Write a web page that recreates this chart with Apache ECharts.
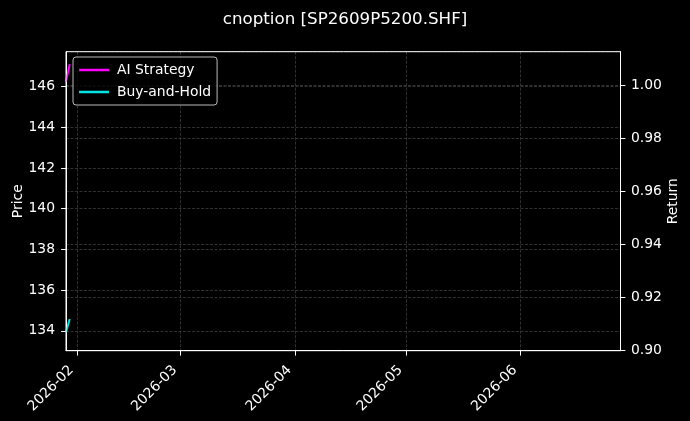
<!DOCTYPE html>
<html>
<head>
<meta charset="utf-8">
<script src="https://cdn.jsdelivr.net/npm/echarts@6/dist/echarts.min.js"></script>
<style>
html,body{margin:0;padding:0;background:#000;}
#chart{width:690px;height:421px;}
</style>
</head>
<body>
<div id="chart"></div>
<script>
var titleText = 'cnoption [SP2609P5200.SHF]';
var dates = ['2026-01-29', '2026-01-30'];
var aiStrategy = [146.25, 147.10];
var buyHold = [133.93, 134.58];
var xMin = '2026-01-29';
var xMax = '2026-06-28';
var priceRange = [133.02, 147.71];
var returnRange = [0.90, 1.0125];

function toTs(s){ return Date.parse(s); }
function pairs(vals){ return dates.map(function(d,i){ return [toTs(d), vals[i]]; }); }

var FONT = 'DejaVu Sans';
var GRID_LINE = {show: true, lineStyle: {color: '#3c3c3c', type: [3, 1.5], width: 0.8}};
var chart = echarts.init(document.getElementById('chart'));
chart.setOption({
  useUTC: true,
  backgroundColor: '#000',
  animation: false,
  textStyle: {fontFamily: FONT},
  title: {
    text: titleText, left: 'center', top: 6,
    textStyle: {color: '#fff', fontSize: 16.7, fontWeight: 'normal', fontFamily: FONT}
  },
  grid: {left: 66, right: 69.5, top: 51.7, bottom: 70.3, show: true, borderColor: '#fff', borderWidth: 1,
    containLabel: false, outerBoundsMode: 'none', z: 5},
  legend: {
    left: 73, top: 57, orient: 'vertical', itemGap: 8,
    icon: 'rect', itemWidth: 30, itemHeight: 2.5,
    padding: [6, 6, 6, 6],
    backgroundColor: 'rgba(0,0,0,0.8)', borderColor: '#bbb', borderWidth: 1, borderRadius: 3,
    textStyle: {color: '#fff', fontSize: 13.9, fontFamily: FONT, padding: [0, 0, 0, 3]},
    data: ['AI Strategy', 'Buy-and-Hold']
  },
  xAxis: {
    type: 'time', min: toTs(xMin), max: toTs(xMax), splitNumber: 5,
    axisLine: {lineStyle: {color: '#fff'}},
    axisTick: {show: true, length: 4.9, lineStyle: {color: '#fff'}},
    axisLabel: {
      color: '#fff', fontSize: 13.9, fontFamily: FONT, rotate: 45, margin: 11.5,
      padding: [0, 8, 0, 0],
      showMinLabel: false, showMaxLabel: false, hideOverlap: false,
      formatter: function(v){ return echarts.time.format(v, '{yyyy}-{MM}', true); }
    },
    splitLine: GRID_LINE
  },
  yAxis: [{
    type: 'value', position: 'left', min: priceRange[0], max: priceRange[1],
    minInterval: 2, maxInterval: 2, splitNumber: 7,
    name: 'Price', nameLocation: 'middle', nameGap: 40.5, nameRotate: 90, nameMoveOverlap: false,
    nameTextStyle: {color: '#fff', fontSize: 13.9, fontFamily: FONT},
    axisLine: {show: true, lineStyle: {color: '#fff'}},
    axisTick: {show: true, length: 4.9, lineStyle: {color: '#fff'}},
    axisLabel: {color: '#fff', fontSize: 13.9, fontFamily: FONT, margin: 11, showMinLabel: false, showMaxLabel: false},
    splitLine: GRID_LINE
  }, {
    type: 'value', position: 'right', min: returnRange[0], max: returnRange[1], interval: 0.02,
    name: 'Return', nameLocation: 'middle', nameGap: 46, nameRotate: 90, nameMoveOverlap: false,
    nameTextStyle: {color: '#fff', fontSize: 13.9, fontFamily: FONT},
    axisLine: {show: true, lineStyle: {color: '#fff'}},
    axisTick: {show: true, length: 4.9, lineStyle: {color: '#fff'}},
    axisLabel: {color: '#fff', fontSize: 13.9, fontFamily: FONT, margin: 10.5, showMaxLabel: false,
      formatter: function(v){ return v.toFixed(2); }},
    splitLine: GRID_LINE
  }],
  series: [{
    name: 'AI Strategy', type: 'line', yAxisIndex: 0, showSymbol: false, symbol: 'none',
    data: pairs(aiStrategy), lineStyle: {color: '#ff00ff', width: 2}, itemStyle: {color: '#ff00ff'}
  }, {
    name: 'Buy-and-Hold', type: 'line', yAxisIndex: 0, showSymbol: false, symbol: 'none',
    data: pairs(buyHold), lineStyle: {color: '#00e5e5', width: 2}, itemStyle: {color: '#00e5e5'}
  }]
});
</script>
</body>
</html>
